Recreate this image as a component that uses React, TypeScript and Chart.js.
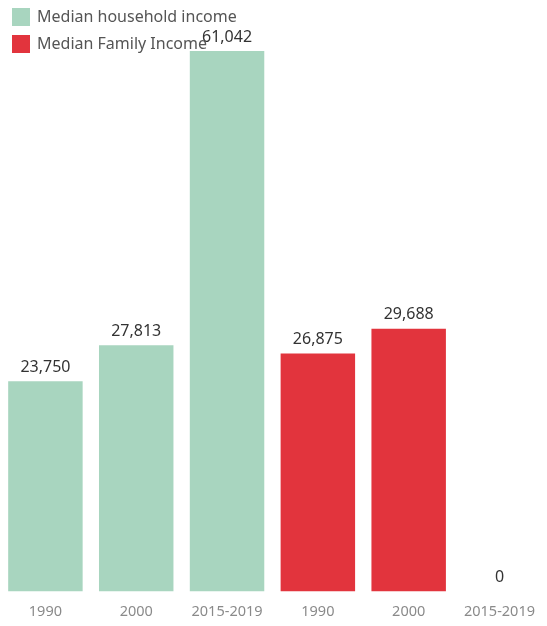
import React, { useEffect, useRef } from "react";
import { Chart, registerables } from "chart.js";

Chart.register(...registerables);

const categories = ["1990", "2000", "2015-2019", "1990", "2000", "2015-2019"];
const householdIncome = [23750, 27813, 61042, null, null, null];
const familyIncome = [null, null, null, 26875, 29688, 0];
const seriesNames = ["Median household income", "Median Family Income"];
const colors = ["#a8d5bf", "#e2343d"];

const valueLabels = {
  id: "valueLabels",
  afterDatasetsDraw(chart: any) {
    const ctx = chart.ctx;
    ctx.save();
    ctx.font = "16px 'Noto Sans', sans-serif";
    ctx.fillStyle = "#333";
    ctx.textAlign = "center";
    ctx.textBaseline = "bottom";
    chart.data.datasets.forEach((ds: any, di: number) => {
      const meta = chart.getDatasetMeta(di);
      meta.data.forEach((el: any, i: number) => {
        const v = ds.data[i];
        if (v === null || v === undefined) return;
        ctx.fillText(v.toLocaleString("en-US"), el.x, el.y - 6);
      });
    });
    ctx.restore();
  },
};

const customLegend = {
  id: "customLegend",
  afterDraw(chart: any) {
    const ctx = chart.ctx;
    ctx.save();
    ctx.font = "16px 'Noto Sans', sans-serif";
    ctx.textBaseline = "middle";
    ctx.textAlign = "left";
    chart.data.datasets.forEach((ds: any, i: number) => {
      const y = 8 + i * 27;
      ctx.fillStyle = ds.backgroundColor;
      ctx.fillRect(12, y, 18, 18);
      ctx.fillStyle = "#555";
      ctx.fillText(ds.label, 37, y + 9);
    });
    ctx.restore();
  },
};

export default function App() {
  const ref = useRef<HTMLCanvasElement>(null);
  useEffect(() => {
    document.body.style.margin = "0";
    const chart = new Chart(ref.current!, {
      type: "bar",
      data: {
        labels: categories,
        datasets: [
          { label: seriesNames[0], data: householdIncome, backgroundColor: colors[0] },
          { label: seriesNames[1], data: familyIncome, backgroundColor: colors[1] },
        ],
      },
      options: {
        animation: false,
        responsive: false,
        maintainAspectRatio: false,
        skipNull: true,
        datasets: { bar: { categoryPercentage: 1, barPercentage: 0.82 } },
        layout: { padding: { top: 0, left: 0, right: 0, bottom: -7 } },
        plugins: {
          legend: { display: false },
          tooltip: { enabled: false },
        },
        scales: {
          x: {
            grid: { display: false, drawTicks: false },
            border: { display: false },
            ticks: {
              color: "#8a8a8a",
              padding: 12,
              font: { size: 14.5, family: "'Noto Sans', sans-serif" },
              maxRotation: 0,
              autoSkip: false,
            },
          },
          y: { display: false, min: 0, max: 66800 },
        },
      } as any,
      plugins: [valueLabels, customLegend],
    });
    return () => chart.destroy();
  }, []);
  return (
    <div style={{ width: 547, height: 626 }}>
      <canvas ref={ref} width={547} height={626} />
    </div>
  );
}
